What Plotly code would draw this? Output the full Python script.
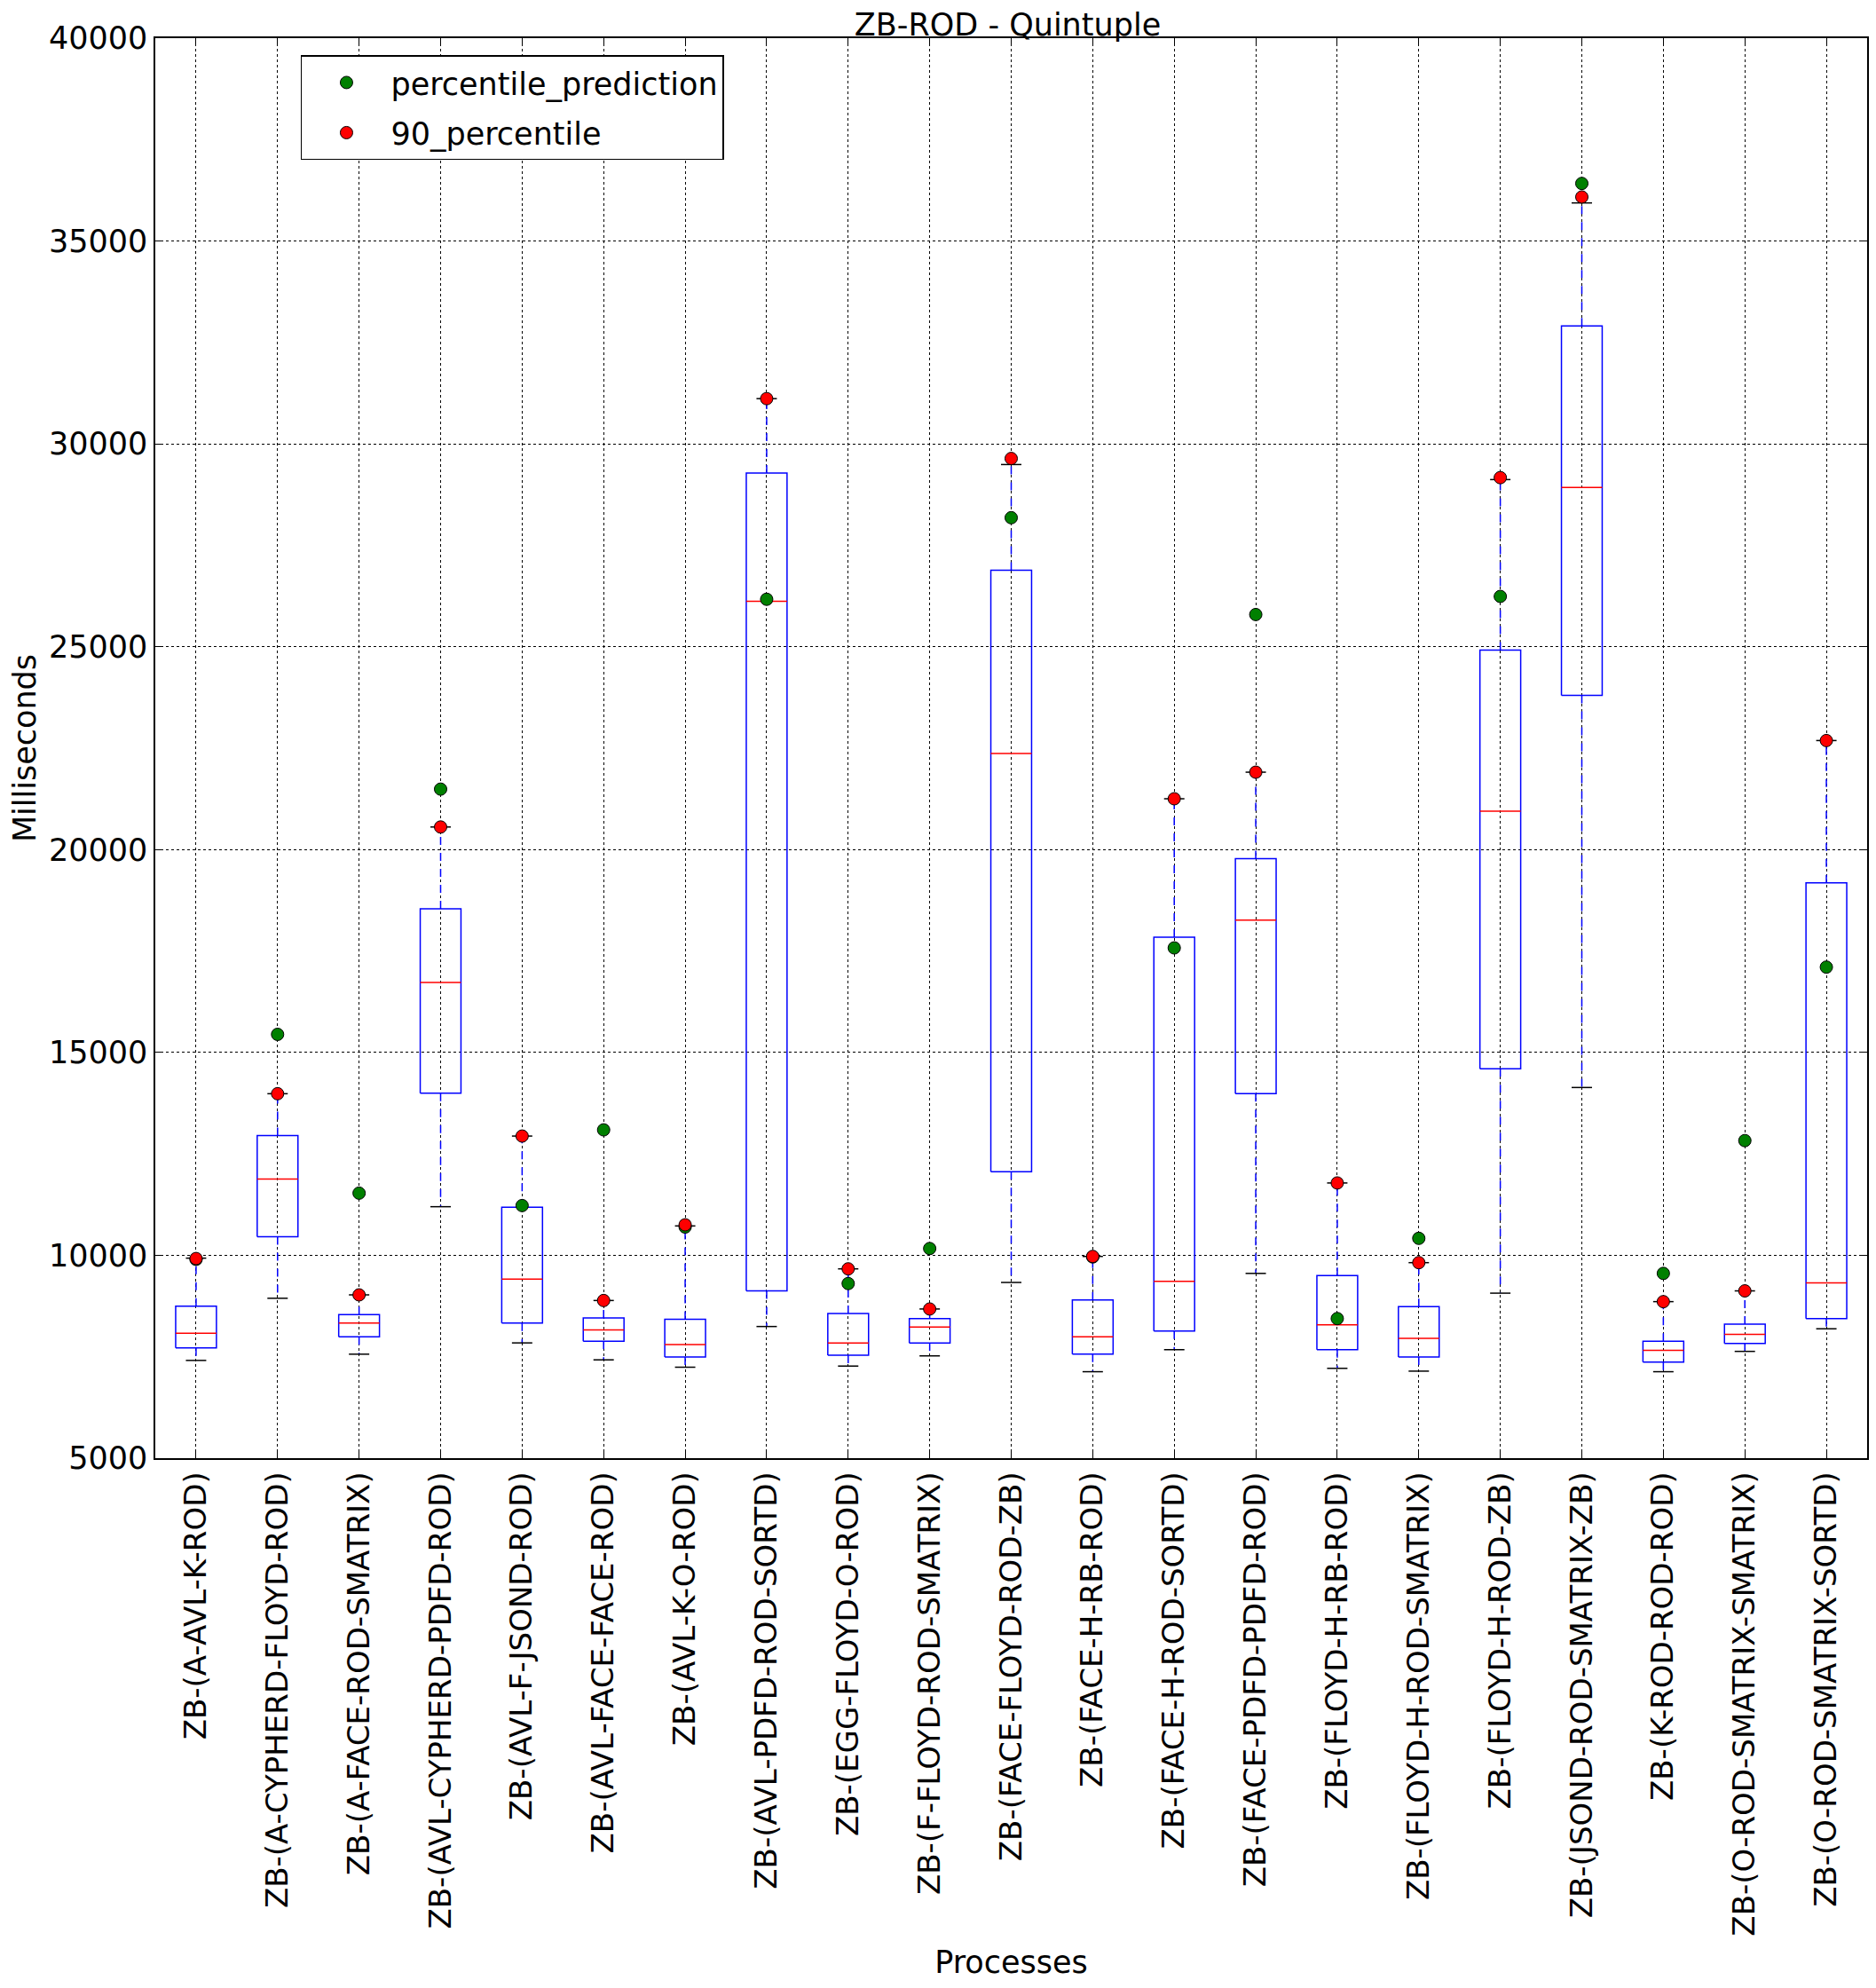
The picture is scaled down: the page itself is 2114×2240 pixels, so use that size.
import plotly.graph_objects as go

processes = [
    "ZB-(A-AVL-K-ROD)", "ZB-(A-CYPHERD-FLOYD-ROD)", "ZB-(A-FACE-ROD-SMATRIX)",
    "ZB-(AVL-CYPHERD-PDFD-ROD)", "ZB-(AVL-F-JSOND-ROD)", "ZB-(AVL-FACE-FACE-ROD)",
    "ZB-(AVL-K-O-ROD)", "ZB-(AVL-PDFD-ROD-SORTD)", "ZB-(EGG-FLOYD-O-ROD)",
    "ZB-(F-FLOYD-ROD-SMATRIX)", "ZB-(FACE-FLOYD-ROD-ZB)", "ZB-(FACE-H-RB-ROD)",
    "ZB-(FACE-H-ROD-SORTD)", "ZB-(FACE-PDFD-PDFD-ROD)", "ZB-(FLOYD-H-RB-ROD)",
    "ZB-(FLOYD-H-ROD-SMATRIX)", "ZB-(FLOYD-H-ROD-ZB)", "ZB-(JSOND-ROD-SMATRIX-ZB)",
    "ZB-(K-ROD-ROD-ROD)", "ZB-(O-ROD-SMATRIX-SMATRIX)", "ZB-(O-ROD-SMATRIX-SORTD)",
]
whisker_low = [7409, 8941, 7563, 11198, 7841, 7423, 7242, 8245, 7270, 7521,
               9331, 7131, 7674, 9554, 7214, 7145, 9067, 14136, 7131, 7632, 8189]
q1 = [7716, 10460, 7994, 13997, 8329, 7883, 7493, 9123, 7535, 7841,
      12061, 7563, 8134, 13983, 7674, 7493, 14596, 23802, 7368, 7827, 8440]
median = [8078, 11880, 8329, 16727, 9415, 8162, 7799, 26120, 7841, 8231,
          22368, 7994, 9359, 18259, 8287, 7953, 20947, 28924, 7660, 8050, 9318]
q3 = [8747, 12953, 8538, 18538, 11184, 8454, 8426, 29281, 8565, 8440,
      26888, 8900, 17841, 19777, 9499, 8733, 24916, 32906, 7883, 8301, 19178]
whisker_high = [9930, 13983, 9025, 20557, 12939, 8886, 10724, 31115, 9666, 8677,
                29491, 9972, 21253, 21908, 11783, 9819, 29120, 35939, 8858, 9123, 22688]
p90 = [9920, 13983, 9025, 20557, 12939, 8886, 10752, 31115, 9666, 8677,
       29640, 9972, 21253, 21908, 11783, 9819, 29168, 36086, 8858, 9123, 22688]
prediction = [9900, 15446, 11532, 21490, 11226, 13092, 10696, 26170, 9304, 10167,
              28180, 9960, 17577, 25794, 8440, 10418, 26240, 36419, 9554, 12827, 17103]

BLUE = "#0000ff"
RED = "#ff0000"
GREEN = "#008000"
BOX_HALF = 0.25
CAP_HALF = 0.125
FONT = "DejaVu Sans"
FS = 35

pos = list(range(1, len(processes) + 1))

box_x, box_y = [], []
med_x, med_y = [], []
wh_x, wh_y = [], []
cap_x, cap_y = [], []
for p, lo, a, m, b, hi in zip(pos, whisker_low, q1, median, q3, whisker_high):
    box_x += [p - BOX_HALF, p + BOX_HALF, p + BOX_HALF, p - BOX_HALF, p - BOX_HALF, None]
    box_y += [a, a, b, b, a, None]
    med_x += [p - BOX_HALF, p + BOX_HALF, None]
    med_y += [m, m, None]
    wh_x += [p, p, None, p, p, None]
    wh_y += [b, hi, None, a, lo, None]
    cap_x += [p - CAP_HALF, p + CAP_HALF, None, p - CAP_HALF, p + CAP_HALF, None]
    cap_y += [hi, hi, None, lo, lo, None]

fig = go.Figure()
fig.add_trace(go.Scatter(x=wh_x, y=wh_y, mode="lines", showlegend=False,
                         line=dict(color=BLUE, width=1.5, dash="dash"), hoverinfo="skip"))
fig.add_trace(go.Scatter(x=cap_x, y=cap_y, mode="lines", showlegend=False,
                         line=dict(color="black", width=1.5), hoverinfo="skip"))
fig.add_trace(go.Scatter(x=box_x, y=box_y, mode="lines", showlegend=False,
                         line=dict(color=BLUE, width=1.5), hoverinfo="skip"))
fig.add_trace(go.Scatter(x=med_x, y=med_y, mode="lines", showlegend=False,
                         line=dict(color=RED, width=1.5), hoverinfo="skip"))
fig.add_trace(go.Scatter(x=pos, y=prediction, mode="markers", name="percentile_prediction",
                         legendgroup="pred",
                         marker=dict(color=GREEN, size=14, line=dict(color="black", width=1))))
fig.add_trace(go.Scatter(x=pos, y=p90, mode="markers", name="90_percentile",
                         legendgroup="p90",
                         marker=dict(color=RED, size=14, line=dict(color="black", width=1))))

fig.update_layout(
    width=2114, height=2240,
    margin=dict(l=159, r=18, t=35, b=605),
    paper_bgcolor="white", plot_bgcolor="white",
    font=dict(family=FONT, size=FS, color="black"),
    title=dict(text="ZB-ROD - Quintuple", x=(159 + 2096) / 2 / 2114, xanchor="center",
               y=1 - 20 / 2240, yanchor="middle", font=dict(size=FS)),
    legend=dict(x=0.085, y=0.988, xanchor="left", yanchor="top",
                bordercolor="black", borderwidth=1.5, bgcolor="white",
                font=dict(size=FS), itemwidth=90, tracegroupgap=8,
                traceorder="grouped"),
    xaxis=dict(
        range=[0.5, len(processes) + 0.5],
        tickmode="array", tickvals=pos, ticktext=processes, tickangle=-90,
        showgrid=True, gridcolor="black", griddash="dot", gridwidth=1,
        showline=True, linecolor="black", linewidth=1.5, mirror="ticks",
        ticks="inside", ticklen=8, tickcolor="black",
        title=dict(text="Processes", standoff=18, font=dict(size=FS)), zeroline=False,
        tickfont=dict(size=34),
    ),
    yaxis=dict(
        range=[5000, 40000], dtick=5000, tick0=5000, tickformat="d",
        showgrid=True, gridcolor="black", griddash="dot", gridwidth=1,
        showline=True, linecolor="black", linewidth=1.5, mirror="ticks",
        ticks="inside", ticklen=8, tickcolor="black",
        title=dict(text="Milliseconds", standoff=10, font=dict(size=FS)), zeroline=False,
        tickfont=dict(size=FS),
    ),
)

fig.write_html("out.html")
